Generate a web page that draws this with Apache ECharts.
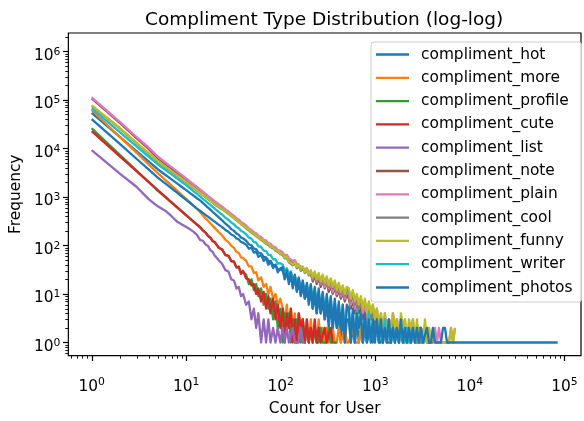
<!DOCTYPE html>
<html><head><meta charset="utf-8">
<script src="https://cdn.jsdelivr.net/npm/echarts@6/dist/echarts.min.js"></script>
<style>html,body{margin:0;padding:0;background:#fff}#c{width:584px;height:421px}</style>
</head><body><div id="c"></div><script>
// x values (count for user) shared by all series
const countGrid = [1,2,3,4,5,6,7,8,9,10,
11,12,13,14,15,16,17,18,19,20,
22,24,26,28,30,32,34,36,38,40,
43,46,49,52,55,58,62,66,70,74,
78,83,88,93,99,
105,110,116,122,128,134,141,148,155,163,171,180,189,198,
208,218,229,240,252,265,278,292,307,322,338,355,373,392,411,432,453,476,500,
525,551,579,608,638,670,704,739,776,815,855,898,943,990,
1040,1092,1147,1204,1264,1327,1394,1464,1537,1614,1694,1779,1868,1961,2059,2162,2270,2384,2503,2628,
2760,2898,3042,3195,3354,3522,3698,3883,4077,4281,4495,4720,4956,5204,5464,5737,6024,6325,6641,6973,
85000];

const hotFreq = [54000,17100,8700,5400,3720,2865,2300,1897,1603,1380,
1200,1060,940,850,752,671,603,545,495,452,
382,330,281,251,217,200,176,166,146,140,
125,106,101,86,84,71,69,58,57,48,48,39,40,32,32,
30,22,25,18,21,15,18,12,15,10,13,8,11,7,
10,5,9,4,8,4,7,3,6,2,6,2,5,2,4,1,4,1,3,
3,1,2,1,3,1,2,1,2,1,1,2,1,1,2,1,1,1,2,1,1,1];

const moreFreq = [62000,17000,8070,4700,3100,2245,1710,1350,1095,910,
766,656,568,490,417,365,322,286,256,230,
189,160,130,117,98,89,74,70,57,55,
48,37,37,27,28,19,22,14,16,10,14,8,10,6,8,
5,3,6,2,5,2,4,1,4,2,3,1,3,1,
3,1,2,1,3,1,2,1,2,1,1,2,1,1,2,1,1,2,1,
1,1,2,1,1,1,2,1];

const profileFreq = [26000,7250,3430,2030,1345,989,761,608,498,417,
355,306,268,237,206,183,158,144,125,116,
92,81,64,60,48,46,36,35,27,28,
25,16,20,12,16,9,13,6,10,5,8,3,7,2,5,
1,4,2,4,1,3,1,3,2,1,3,1,2,1,
2,1,2,1,1,2,1,1,1,2,1,1,1,1];

const cuteFreq = [22700,6800,3360,2036,1380,1010,776,617,505,422,
358,309,269,240,204,186,157,146,124,118,
90,83,63,62,47,47,35,37,26,30,
21,20,15,16,10,13,7,11,5,9,4,8,3,6,2,
5,1,4,2,5,1,3,1,4,2,3,1,3,1,
2,1,3,1,2,1,1,2,1,1,2,1];

const listFreq = [9200,3000,1600,900,640,520,400,310,270,240,
215,190,165,130,125,105,98,80,74,62,
50,42,31,29,20,19,13,14,9,10,
6,7,3,5,2,4,1,3,1,3,1,2,1,2,1,
2,1,2,1,1,2,1,1,1,2,1,1];

const noteFreq = [107000,33000,16000,9800,6300,4800,3800,3100,2600,2250,
1930,1690,1490,1330,1195,1080,985,900,830,770,
668,590,522,468,420,383,345,318,288,268,
238,212,196,174,166,148,140,122,118,104,100,88,84,74,70,
64,60,58,50,52,44,46,39,41,34,36,30,31,26,
27,18,25,16,22,14,20,13,18,11,15,10,14,9,12,8,11,7,10,
8,5,8,4,7,4,6,3,6,3,5,3,5,2,
4,2,3,1,3,2,3,1,2,1,3,1,2,1,2,1,2,1,1,2,1,2,1,1,2,1,1,1];

const plainFreq = [113000,35000,17000,10500,6800,5170,4100,3360,2815,2400,
2070,1810,1600,1425,1280,1160,1055,965,890,820,
712,630,552,500,447,410,365,340,305,288,
258,224,210,186,178,158,151,131,127,111,109,95,92,80,78,
72,63,64,55,56,48,50,42,45,37,39,32,34,28,
29,20,27,18,24,16,22,14,19,13,17,11,16,10,14,9,12,8,11,
10,6,9,5,8,5,8,4,7,3,6,4,6,3,
5,2,4,1,4,2,3,1,4,2,3,1,3,2,3,1,2,1,3,1,
2,1,2,1,2,1,2,1,1,2,1,2,1,1,1,1,1,2,1,2];

const coolFreq = [75500,25500,12750,7850,5400,4170,3330,2760,2340,2010,
1735,1520,1350,1210,1090,990,900,828,765,705,
622,553,497,450,402,365,328,304,274,259,
225,205,183,170,154,145,129,121,107,103,92,88,78,75,66,
64,54,55,45,48,39,43,34,38,30,35,27,31,24,
29,21,27,19,25,17,23,16,21,14,19,13,17,11,15,10,14,9,12,
12,7,11,6,9,5,8,5,7,4,6,3,5,3,
4,2,3,1,3,1,3,1,3,2,2,1,3,1,2,1,2,1,2,1,2,1,2,1,2,1,1,1,1];

const funnyFreq = [77000,26000,13000,8000,5500,4250,3400,2820,2390,2050,
1770,1550,1380,1235,1110,1010,920,845,780,720,
635,565,507,459,410,372,335,310,280,264,
232,215,188,178,158,152,132,127,110,108,95,92,80,79,68,
68,56,58,47,51,41,45,36,41,32,37,28,33,25,
31,22,29,20,27,18,25,17,23,15,21,14,19,12,17,11,15,10,14,
13,8,12,7,10,6,9,5,8,4,7,4,6,3,
5,2,4,2,4,1,3,2,4,2,3,1,4,2,3,1,3,2,3,1,
3,1,2,1,3,1,2,1,2,1,1,1,1,1,1,1,1,2,1,2];

const writerFreq = [67000,21300,10900,6800,4720,3635,2920,2410,2035,1750,
1500,1307,1150,1022,915,825,749,683,628,573,
492,430,372,338,296,274,240,226,200,190,
170,145,138,118,114,96,94,78,76,64,64,52,52,42,43,
40,30,34,25,29,21,24,17,21,14,18,12,16,11,
15,8,13,7,11,6,10,5,9,4,8,3,7,3,6,2,6,2,5,
5,2,4,1,5,2,4,1,3,2,4,1,3,1,
3,1,2,1,3,1,2,1,2,1,2,1,2,1,1,2,1,1,2,1,1,1,2,1,1];

const photosFreq = [40000,12200,6050,3690,2510,1900,1500,1222,1021,869,
749,653,575,520,470,428,392,360,333,309,
269,239,209,191,168,158,139,133,118,114,
104,86,90,71,76,58,64,48,55,40,47,34,40,28,34,
36,20,31,16,28,13,25,11,22,9,19,8,17,6,
16,5,14,4,13,4,11,3,10,3,9,2,8,2,7,2,6,1,6,
5,1,5,1,4,2,4,1,4,1,3,1,3,1,
3,1,3,1,2,1,3,1,2,1,2,1,3,1,2,1,2,1,2,1,
2,1,2,1,1,2,1,1,2,1,1,1,1,2,2,1,1,1,1,1,
1];

const seriesNames = ['compliment_hot','compliment_more','compliment_profile','compliment_cute','compliment_list','compliment_note','compliment_plain','compliment_cool','compliment_funny','compliment_writer','compliment_photos'];
const seriesColors = ['#1f77b4','#ff7f0e','#2ca02c','#d62728','#9467bd','#8c564b','#e377c2','#7f7f7f','#bcbd22','#17becf','#1f77b4'];
const xMajorExp = [0,1,2,3,4,5];
const yMajorExp = [0,1,2,3,4,5,6];
const minorMult = [2,3,4,5,6,7,8,9];
const xTitle = 'Count for User';
const yTitle = 'Frequency';
const chartTitle = 'Compliment Type Distribution (log-log)';

const X_MIN = 0.567, X_MAX = 1.5e5, Y_MIN = 0.537, Y_MAX = 2.39e6;
const FONT = 'DejaVu Sans';
const FS = 15.4;

const freqs = [hotFreq, moreFreq, profileFreq, cuteFreq, listFreq, noteFreq, plainFreq, coolFreq, funnyFreq, writerFreq, photosFreq];

const lineSeries = seriesNames.map((name, i) => ({
  name, type: 'line',
  data: freqs[i].map((y, j) => [countGrid[j], y]),
  showSymbol: false, symbol: 'none',
  lineStyle: { width: 2.3, color: seriesColors[i], join: 'round' },
  itemStyle: { color: seriesColors[i] },
  emphasis: { disabled: true },
  z: 2
}));

// tick marks (major + minor, matplotlib style)
const xTickData = [], yTickData = [];
for (let e = -1; e <= 5; e++) {
  [1].concat(minorMult).forEach(m => {
    const v = m * Math.pow(10, e);
    if (v >= X_MIN && v <= X_MAX) xTickData.push([v, Y_MIN, (m === 1 && xMajorExp.includes(e)) ? 1 : 0]);
  });
}
for (let e = -1; e <= 6; e++) {
  [1].concat(minorMult).forEach(m => {
    const v = m * Math.pow(10, e);
    if (v >= Y_MIN && v <= Y_MAX) yTickData.push([X_MIN, v, (m === 1 && yMajorExp.includes(e)) ? 1 : 0]);
  });
}
const tickSeries = [
  { type: 'custom', silent: true, clip: false, z: 5, data: xTickData, encode: { x: 0, y: 1 },
    renderItem(params, api) {
      const p = api.coord([api.value(0), api.value(1)]);
      const major = api.value(2) === 1;
      const x = Math.round(p[0]) + 0.5;
      return { type: 'line', shape: { x1: x, y1: p[1], x2: x, y2: p[1] + (major ? 5.4 : 3.1) },
        style: { stroke: '#000', lineWidth: major ? 1.2 : 0.9 } };
    } },
  { type: 'custom', silent: true, clip: false, z: 5, data: yTickData, encode: { x: 0, y: 1 },
    renderItem(params, api) {
      const p = api.coord([api.value(0), api.value(1)]);
      const major = api.value(2) === 1;
      const y = Math.round(p[1]) + 0.5;
      return { type: 'line', shape: { x1: p[0] - (major ? 5.4 : 3.1), y1: y, x2: p[0], y2: y },
        style: { stroke: '#000', lineWidth: major ? 1.2 : 0.9 } };
    } }
];

const fmt = v => {
  const e = Math.log10(v), r = Math.round(e);
  return Math.abs(e - r) < 1e-6 ? '{b|10}{s|' + r + '}' : '';
};
const rich = {
  b: { fontFamily: FONT, fontSize: FS, color: '#000', lineHeight: 16 },
  s: { fontFamily: FONT, fontSize: 10.8, color: '#000', lineHeight: 11, padding: [0, 0, 8, 0] }
};

const chart = echarts.init(document.getElementById('c'), null, { renderer: 'canvas' });
chart.setOption({
  animation: false,
  backgroundColor: '#fff',
  title: { text: chartTitle, left: 140, top: 6,
    textStyle: { fontFamily: FONT, fontSize: 18.5, fontWeight: 'normal', color: '#000' } },
  grid: { left: 66, top: 33, right: -5, bottom: 50, show: true, borderColor: '#000', borderWidth: 1.2, backgroundColor: '#fff' },
  legend: {
    data: seriesNames, orient: 'vertical', left: 371, top: 42,
    icon: 'rect', itemWidth: 33, itemHeight: 2.3, itemGap: 6.3,
    padding: [4, 9, 6, 5], borderColor: '#cccccc', borderWidth: 1, borderRadius: 3,
    backgroundColor: 'rgba(255,255,255,0.8)', selectedMode: false,
    textStyle: { fontFamily: FONT, fontSize: FS, color: '#000', lineHeight: 17, padding: [0, 0, 0, 7] }
  },
  xAxis: {
    type: 'log', logBase: 10, min: X_MIN, max: X_MAX,
    name: xTitle, nameLocation: 'middle', nameGap: 39,
    nameTextStyle: { fontFamily: FONT, fontSize: FS, color: '#000' },
    axisLine: { show: false }, axisTick: { show: false }, splitLine: { show: false }, minorTick: { show: false },
    axisLabel: { margin: 23, formatter: fmt, rich }
  },
  yAxis: {
    type: 'log', logBase: 10, min: Y_MIN, max: Y_MAX,
    name: yTitle, nameLocation: 'middle', nameGap: 44,
    nameTextStyle: { fontFamily: FONT, fontSize: FS, color: '#000' },
    axisLine: { show: false }, axisTick: { show: false }, splitLine: { show: false }, minorTick: { show: false },
    axisLabel: { margin: 8, padding: [9, 0, 0, 0], formatter: fmt, rich }
  },
  series: lineSeries.concat(tickSeries)
});
</script></body></html>
